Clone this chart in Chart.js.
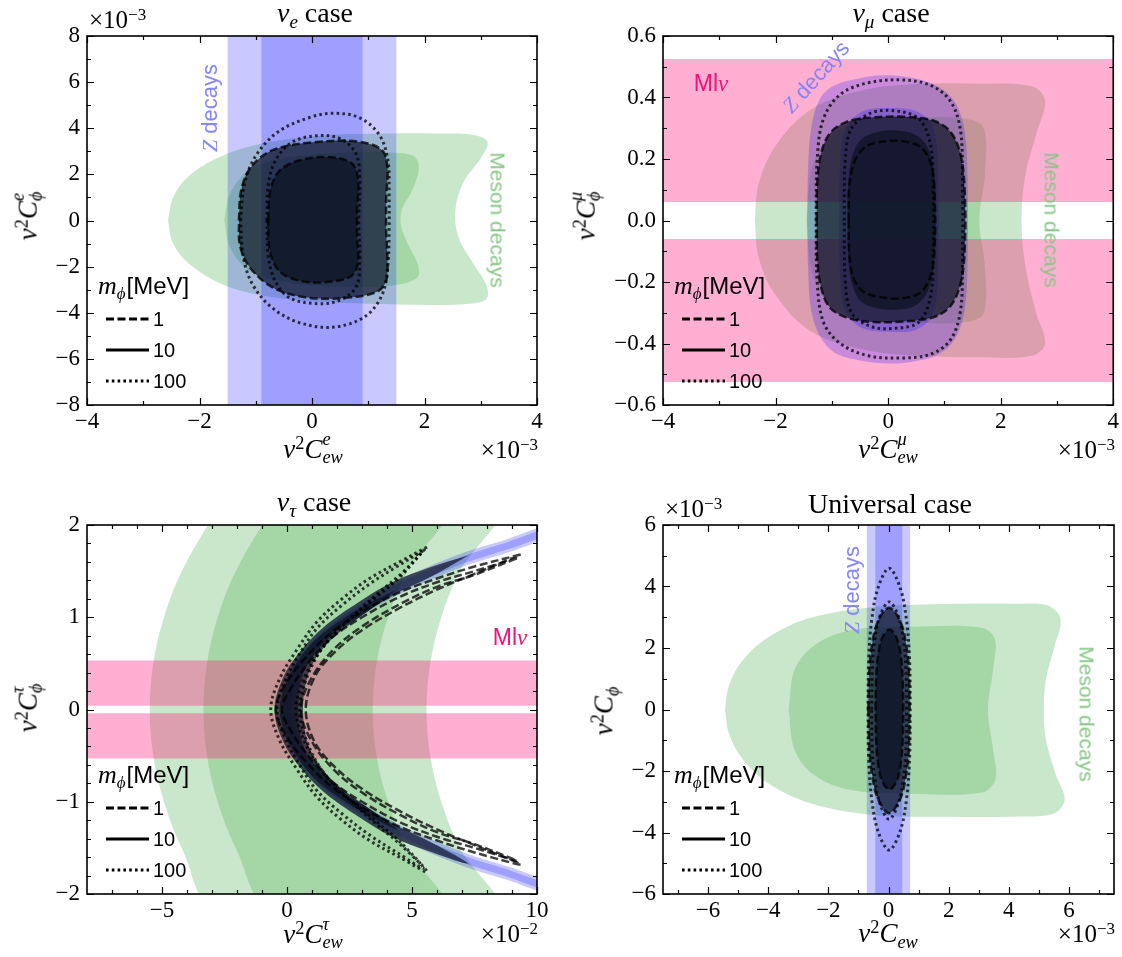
<!DOCTYPE html>
<html>
<head>
<meta charset="utf-8">
<script src="https://cdn.jsdelivr.net/npm/chart.js@4.4.0/dist/chart.umd.min.js"></script>
<style>
  body { margin: 0; background: #fff; }
  #fig { position: relative; width: 1122px; height: 957px; overflow: hidden; font-family: "Liberation Serif", serif; color: #000; }
  canvas { position: absolute; }
  .t { position: absolute; white-space: nowrap; line-height: 1; }
  .c { transform: translate(-50%, -50%); }
  .r { transform: translate(-50%, -50%) rotate(-90deg); }
  .rr { transform: translate(-50%, -50%) rotate(90deg); }
  .sans { font-family: "Liberation Sans", sans-serif; }
  sup, sub { font-size: 0.68em; vertical-align: 0; position: relative; line-height: 0; }
  sup { top: -0.5em; }
  sub { top: 0.3em; }
  .ss { display: inline-block; vertical-align: -0.3em; font-size: 0.68em; line-height: 1; font-style: italic; }
  .ss span { display: block; }
</style>
</head>
<body>
<div id="fig">
  <canvas id="c1" width="561" height="478" style="left:0;top:0"></canvas>
  <canvas id="c2" width="561" height="478" style="left:561px;top:0"></canvas>
  <canvas id="c3" width="561" height="479" style="left:0;top:478px"></canvas>
  <canvas id="c4" width="561" height="479" style="left:561px;top:478px"></canvas>

  <!-- titles -->
  <div class="t c" style="left:315px;top:13px;font-size:28px"><i>ν</i><sub><i>e</i></sub> case</div>
  <div class="t c" style="left:891px;top:13px;font-size:28px"><i>ν</i><sub><i>μ</i></sub> case</div>
  <div class="t c" style="left:314px;top:502px;font-size:28px"><i>ν</i><sub><i>τ</i></sub> case</div>
  <div class="t c" style="left:890px;top:504px;font-size:28px">Universal case</div>

  <!-- offset labels -->
  <div class="t" style="left:89px;top:7px;font-size:25px">×10<sup>−3</sup></div>
  <div class="t" style="right:584px;top:437px;font-size:25px">×10<sup>−3</sup></div>
  <div class="t" style="right:7px;top:437px;font-size:25px">×10<sup>−3</sup></div>
  <div class="t" style="right:584px;top:921px;font-size:25px">×10<sup>−2</sup></div>
  <div class="t" style="left:665px;top:496px;font-size:25px">×10<sup>−3</sup></div>
  <div class="t" style="right:7px;top:921px;font-size:25px">×10<sup>−3</sup></div>

  <!-- axis titles -->
  <div class="t c" style="left:313px;top:448px;font-size:27px"><i>v</i><sup>2</sup><i>C</i><span class="ss"><span>e</span><span>ew</span></span></div>
  <div class="t c" style="left:888px;top:448px;font-size:27px"><i>v</i><sup>2</sup><i>C</i><span class="ss"><span>μ</span><span>ew</span></span></div>
  <div class="t c" style="left:313px;top:933px;font-size:27px"><i>v</i><sup>2</sup><i>C</i><span class="ss"><span>τ</span><span>ew</span></span></div>
  <div class="t c" style="left:888px;top:933px;font-size:27px"><i>v</i><sup>2</sup><i>C</i><sub><i>ew</i></sub></div>
  <div class="t r" style="left:27px;top:216px;font-size:27px"><i>v</i><sup>2</sup><i>C</i><span class="ss"><span>e</span><span>ϕ</span></span></div>
  <div class="t r" style="left:585px;top:216px;font-size:27px"><i>v</i><sup>2</sup><i>C</i><span class="ss"><span>μ</span><span>ϕ</span></span></div>
  <div class="t r" style="left:27px;top:708px;font-size:27px"><i>v</i><sup>2</sup><i>C</i><span class="ss"><span>τ</span><span>ϕ</span></span></div>
  <div class="t r" style="left:604px;top:711px;font-size:27px"><i>v</i><sup>2</sup><i>C</i><sub><i>ϕ</i></sub></div>

  <!-- annotations -->
  <div class="t r sans" style="left:210px;top:108px;font-size:22px;color:#8585f5"><i style="font-family:'Liberation Serif'">Z</i> decays</div>
  <div class="t rr sans" style="left:498px;top:220px;font-size:21px;color:#86c586">Meson decays</div>
  <div class="t c sans" style="left:711px;top:83px;font-size:23px;color:#f0127a">Ml<i style="font-family:'Liberation Serif'">ν</i></div>
  <div class="t c sans" style="left:816px;top:77px;font-size:22px;color:#8585f5;transform:translate(-50%,-50%) rotate(-48deg)"><i style="font-family:'Liberation Serif'">Z</i> decays</div>
  <div class="t rr sans" style="left:1052px;top:220px;font-size:21px;color:#86c586">Meson decays</div>
  <div class="t c sans" style="left:510px;top:637px;font-size:23px;color:#f0127a">Ml<i style="font-family:'Liberation Serif'">ν</i></div>
  <div class="t r sans" style="left:852px;top:590px;font-size:22px;color:#8585f5"><i style="font-family:'Liberation Serif'">Z</i> decays</div>
  <div class="t rr sans" style="left:1087px;top:714px;font-size:21px;color:#86c586">Meson decays</div>
</div>

<script>
// ---------- nu_e panel (both axes in units of 1e-3) ----------
const E_X_TICKS = [-4, -2, 0, 2, 4]
const E_X_MINOR = [-3, -1, 1, 3]
const E_Y_TICKS = [-8, -6, -4, -2, 0, 2, 4, 6, 8]
const E_Y_MINOR = [-7, -5, -3, -1, 1, 3, 5, 7]
const E_Z_OUTER = [-1.5, 1.5]
const E_Z_INNER = [-0.9, 0.9]
const E_MESON_95 = [[-2.56, 0], [-2.47, 1.0], [-2.18, 1.95], [-1.6, 2.8], [-0.8, 3.38], [0.2, 3.68], [1.3, 3.77], [2.3, 3.77], [2.9, 3.7], [3.12, 3.4], [3.0, 2.7], [2.7, 1.7], [2.55, 0.5], [2.6, -0.7], [2.85, -1.8], [3.1, -2.8], [3.1, -3.4], [2.75, -3.62], [1.8, -3.65], [0.7, -3.58], [-0.47, -3.4], [-1.48, -2.88], [-2.15, -1.95], [-2.47, -1.0], [-2.56, 0]]
const E_MESON_68 = [[-1.56, 0], [-1.45, 1.2], [-1.1, 2.2], [-0.47, 2.72], [0.4, 2.92], [1.3, 2.95], [1.8, 2.8], [1.9, 2.3], [1.78, 1.3], [1.6, 0.5], [1.58, -0.2], [1.7, -1.0], [1.88, -1.9], [1.88, -2.45], [1.5, -2.8], [0.6, -2.88], [-0.4, -2.7], [-1.1, -2.2], [-1.45, -1.2], [-1.56, 0]]
const E_FIT_95 = [[-1.3, 0], [-1.26, 1.3], [-1.09, 2.3], [-0.7, 3.05], [0.06, 3.4], [0.82, 3.42], [1.24, 3.06], [1.34, 2.3], [1.32, 1.0], [1.32, -0.5], [1.34, -1.6], [1.32, -2.6], [1.15, -3.1], [0.5, -3.37], [-0.15, -3.32], [-0.7, -2.9], [-1.1, -2.05], [-1.28, -1.1], [-1.3, 0]]
const E_FIT_68 = [[-0.78, 0], [-0.74, 1.3], [-0.58, 2.15], [-0.2, 2.62], [0.35, 2.74], [0.72, 2.45], [0.82, 1.7], [0.8, 0.5], [0.8, -0.8], [0.82, -1.8], [0.7, -2.4], [0.3, -2.66], [-0.2, -2.62], [-0.58, -2.2], [-0.75, -1.3], [-0.78, 0]]
const E_DOT_95 = [[-1.27, 0], [-1.2, 1.6], [-1.0, 2.8], [-0.6, 3.85], [0.0, 4.5], [0.4, 4.65], [0.85, 4.45], [1.2, 3.7], [1.35, 2.6], [1.37, 1.2], [1.37, -0.5], [1.35, -1.9], [1.25, -3.2], [0.95, -4.15], [0.4, -4.62], [-0.2, -4.45], [-0.7, -3.8], [-1.05, -2.8], [-1.22, -1.6], [-1.27, 0]]
const E_DOT_68 = [[-0.8, 0], [-0.78, 1.5], [-0.65, 2.6], [-0.35, 3.4], [0.1, 3.68], [0.5, 3.55], [0.78, 2.9], [0.85, 1.8], [0.83, 0], [0.85, -1.8], [0.78, -2.9], [0.45, -3.5], [0.05, -3.6], [-0.4, -3.35], [-0.66, -2.6], [-0.78, -1.5], [-0.8, 0]]

// ---------- nu_mu panel (x in 1e-3) ----------
const M_X_TICKS = [-4, -2, 0, 2, 4]
const M_X_MINOR = [-3, -1, 1, 3]
const M_Y_TICKS = [-0.6, -0.4, -0.2, 0, 0.2, 0.4, 0.6]
const M_Y_MINOR = [-0.5, -0.3, -0.1, 0.1, 0.3, 0.5]
const M_PINK_UP = [0.06, 0.525]
const M_PINK_DN = [-0.525, -0.06]
const M_MESON_95 = [[-2.37, 0], [-2.3, 0.12], [-2.01, 0.24], [-1.38, 0.36], [-0.42, 0.425], [0.53, 0.444], [1.6, 0.445], [2.56, 0.436], [2.79, 0.39], [2.63, 0.28], [2.44, 0.15], [2.37, 0], [2.44, -0.15], [2.63, -0.3], [2.79, -0.4], [2.56, -0.44], [1.6, -0.445], [0.53, -0.44], [-0.42, -0.42], [-1.38, -0.36], [-2.01, -0.24], [-2.3, -0.12], [-2.37, 0]]
const M_MESON_68 = [[-1.45, 0], [-1.35, 0.17], [-1.0, 0.28], [-0.3, 0.33], [0.6, 0.335], [1.4, 0.33], [1.7, 0.3], [1.72, 0.15], [1.62, 0], [1.72, -0.15], [1.7, -0.3], [1.4, -0.33], [0.6, -0.333], [-0.3, -0.328], [-1.0, -0.28], [-1.35, -0.17], [-1.45, 0]]
const M_Z_95 = [[-1.44, 0], [-1.42, 0.18], [-1.36, 0.31], [-1.2, 0.4], [-0.95, 0.44], [-0.5, 0.463], [-0.1, 0.472], [0.4, 0.465], [0.84, 0.44], [1.17, 0.39], [1.35, 0.3], [1.41, 0.15], [1.41, -0.15], [1.35, -0.3], [1.17, -0.39], [0.84, -0.44], [0.4, -0.46], [0.02, -0.465], [-0.5, -0.455], [-0.95, -0.43], [-1.2, -0.38], [-1.36, -0.3], [-1.42, -0.17], [-1.44, 0]]
const M_Z_68 = [[-0.87, 0], [-0.85, 0.2], [-0.75, 0.3], [-0.45, 0.355], [0.05, 0.366], [0.5, 0.355], [0.78, 0.31], [0.88, 0.2], [0.88, -0.2], [0.78, -0.31], [0.5, -0.355], [0.05, -0.362], [-0.45, -0.35], [-0.75, -0.3], [-0.85, -0.2], [-0.87, 0]]
const M_FIT_95 = [[-1.27, 0], [-1.26, 0.12], [-1.2, 0.21], [-1.05, 0.28], [-0.75, 0.32], [-0.3, 0.335], [0.3, 0.337], [0.8, 0.325], [1.1, 0.29], [1.28, 0.22], [1.36, 0.1], [1.36, -0.1], [1.28, -0.21], [1.1, -0.28], [0.8, -0.315], [0.3, -0.328], [-0.3, -0.33], [-0.75, -0.315], [-1.05, -0.28], [-1.2, -0.21], [-1.26, -0.12], [-1.27, 0]]
const M_FIT_68 = [[-0.72, 0], [-0.71, 0.12], [-0.65, 0.2], [-0.5, 0.26], [-0.2, 0.288], [0.2, 0.292], [0.52, 0.275], [0.72, 0.23], [0.82, 0.15], [0.84, 0.05], [0.84, -0.06], [0.8, -0.16], [0.68, -0.24], [0.45, -0.28], [0.15, -0.29], [-0.2, -0.285], [-0.5, -0.26], [-0.65, -0.2], [-0.71, -0.12], [-0.72, 0]]
const M_DASH_68 = [[-0.7, 0], [-0.69, 0.11], [-0.6, 0.19], [-0.4, 0.24], [-0.05, 0.258], [0.35, 0.255], [0.62, 0.232], [0.78, 0.17], [0.83, 0.06], [0.83, -0.07], [0.77, -0.17], [0.6, -0.23], [0.3, -0.252], [-0.1, -0.25], [-0.45, -0.23], [-0.63, -0.18], [-0.69, -0.1], [-0.7, 0]]
const M_DOT_95 = [[-1.28, 0], [-1.26, 0.2], [-1.15, 0.33], [-0.85, 0.41], [-0.35, 0.448], [0.25, 0.457], [0.75, 0.44], [1.1, 0.39], [1.28, 0.3], [1.32, 0.15], [1.32, -0.15], [1.28, -0.3], [1.1, -0.39], [0.75, -0.435], [0.25, -0.447], [-0.35, -0.44], [-0.85, -0.4], [-1.15, -0.33], [-1.26, -0.2], [-1.28, 0]]
const M_DOT_68 = [[-0.78, 0], [-0.76, 0.2], [-0.65, 0.3], [-0.3, 0.35], [0.15, 0.356], [0.55, 0.33], [0.75, 0.25], [0.8, 0.12], [0.8, -0.12], [0.75, -0.25], [0.55, -0.33], [0.15, -0.35], [-0.3, -0.345], [-0.65, -0.3], [-0.76, -0.2], [-0.78, 0]]

// ---------- nu_tau panel (x in 1e-2) ----------
const T_X_TICKS = [-5, 0, 5, 10]
const T_X_MINOR = [-7, -6, -4, -3, -2, -1, 1, 2, 3, 4, 6, 7, 8, 9]
const T_Y_TICKS = [-2, -1, 0, 1, 2]
const T_Y_MINOR = [-1.8, -1.6, -1.4, -1.2, -0.8, -0.6, -0.4, -0.2, 0.2, 0.4, 0.6, 0.8, 1.2, 1.4, 1.6, 1.8]
const T_PINK_UP = [0.04, 0.53]
const T_PINK_DN = [-0.53, -0.04]
const T_MESON_95 = [[-2.73, 2.2], [-4.21, 1.5], [-4.92, 1], [-5.35, 0.5], [-5.49, 0], [-5.35, -0.5], [-4.92, -1], [-4.21, -1.5], [-2.73, -2.2], [8.44, -2.2], [6.91, -1.5], [6.17, -1], [5.73, -0.5], [5.58, 0], [5.73, 0.5], [6.17, 1], [6.91, 1.5], [8.44, 2.2], [-2.73, 2.2]]
const T_MESON_68 = [[-0.56, 2.2], [-2.05, 1.5], [-2.77, 1], [-3.2, 0.5], [-3.34, 0], [-3.2, -0.5], [-2.77, -1], [-2.05, -1.5], [-0.56, -2.2], [6.38, -2.2], [4.8, -1.5], [4.04, -1], [3.58, -0.5], [3.43, 0], [3.58, 0.5], [4.04, 1], [4.8, 1.5], [6.38, 2.2], [-0.56, 2.2]]
const T_Z_CURVE = [[10.8, -1.97], [10, -1.89], [8.88, -1.78], [7.23, -1.64], [5.73, -1.48], [4.28, -1.3], [2.86, -1.08], [1.42, -0.79], [0.42, -0.44], [0.02, 0], [0.42, 0.44], [1.42, 0.79], [2.86, 1.08], [4.28, 1.3], [5.73, 1.48], [7.23, 1.64], [8.88, 1.78], [10, 1.89], [10.8, 1.97]]
const T_FIT_95 = [[7.25, 1.67], [5.7, 1.54], [4.2, 1.38], [2.85, 1.16], [1.5, 0.9], [0.5, 0.62], [-0.15, 0.35], [-0.5, 0], [-0.15, -0.35], [0.5, -0.62], [1.5, -0.9], [2.85, -1.16], [4.2, -1.38], [5.7, -1.54], [7.25, -1.67], [5.7, -1.43], [4.2, -1.23], [2.85, -0.99], [1.6, -0.71], [0.9, -0.42], [0.64, 0], [0.9, 0.42], [1.6, 0.71], [2.85, 0.99], [4.2, 1.23], [5.7, 1.43], [7.25, 1.67]]
const T_FIT_68 = [[4.4, 1.3], [3.2, 1.14], [2.0, 0.94], [1.0, 0.72], [0.3, 0.47], [-0.1, 0.25], [-0.3, 0], [-0.1, -0.25], [0.3, -0.47], [1.0, -0.72], [2.0, -0.94], [3.2, -1.14], [4.4, -1.3], [3.2, -1.06], [2.0, -0.85], [1.1, -0.6], [0.6, -0.35], [0.45, 0], [0.6, 0.35], [1.1, 0.6], [2.0, 0.85], [3.2, 1.06], [4.4, 1.3]]
const T_DASH_95 = [[9.35, 1.68], [7.5, 1.55], [6, 1.42], [4.5, 1.27], [3, 1.06], [1.8, 0.84], [0.8, 0.58], [0.0, 0.3], [-0.45, 0], [0.0, -0.3], [0.8, -0.58], [1.8, -0.84], [3, -1.06], [4.5, -1.27], [6, -1.42], [7.5, -1.55], [9.35, -1.68], [7.5, -1.47], [6, -1.3], [4.5, -1.1], [3, -0.86], [1.9, -0.62], [1.1, -0.35], [0.75, 0], [1.1, 0.35], [1.9, 0.62], [3, 0.86], [4.5, 1.1], [6, 1.3], [7.5, 1.47], [9.35, 1.68]]
const T_DASH_68 = [[9.2, 1.64], [7.5, 1.5], [6, 1.38], [4.5, 1.22], [3, 1.0], [1.8, 0.78], [0.9, 0.52], [0.2, 0.25], [-0.2, 0], [0.2, -0.25], [0.9, -0.52], [1.8, -0.78], [3, -1.0], [4.5, -1.22], [6, -1.38], [7.5, -1.5], [9.2, -1.64], [7.5, -1.46], [6, -1.33], [4.5, -1.14], [3, -0.9], [1.9, -0.66], [1.0, -0.35], [0.55, 0], [1.0, 0.35], [1.9, 0.66], [3, 0.9], [4.5, 1.14], [6, 1.33], [7.5, 1.46], [9.2, 1.64]]
const T_DOT_95 = [[5.6, 1.76], [4.5, 1.6], [3.3, 1.42], [2.2, 1.2], [1.2, 0.95], [0.4, 0.65], [-0.3, 0.33], [-0.65, 0], [-0.3, -0.33], [0.4, -0.65], [1.2, -0.95], [2.2, -1.2], [3.3, -1.42], [4.5, -1.6], [5.6, -1.76], [4.6, -1.48], [3.6, -1.25], [2.5, -0.98], [1.5, -0.7], [0.8, -0.35], [0.5, 0], [0.8, 0.35], [1.5, 0.7], [2.5, 0.98], [3.6, 1.25], [4.6, 1.48], [5.6, 1.76]]
const T_DOT_68 = [[5.45, 1.72], [4.4, 1.55], [3.3, 1.36], [2.2, 1.13], [1.2, 0.88], [0.5, 0.6], [-0.1, 0.3], [-0.4, 0], [-0.1, -0.3], [0.5, -0.6], [1.2, -0.88], [2.2, -1.13], [3.3, -1.36], [4.4, -1.55], [5.45, -1.72], [4.5, -1.43], [3.5, -1.2], [2.4, -0.95], [1.4, -0.66], [0.7, -0.35], [0.35, 0], [0.7, 0.35], [1.4, 0.66], [2.4, 0.95], [3.5, 1.2], [4.5, 1.43], [5.45, 1.72]]

// ---------- universal panel (both axes in 1e-3) ----------
const U_X_TICKS = [-6, -4, -2, 0, 2, 4, 6]
const U_X_MINOR = [-7, -5, -3, -1, 1, 3, 5, 7]
const U_Y_TICKS = [-6, -4, -2, 0, 2, 4, 6]
const U_Y_MINOR = [-5, -3, -1, 1, 3, 5]
const U_Z_OUTER = [-0.72, 0.72]
const U_Z_INNER = [-0.44, 0.46]
const U_MESON_95 = [[-5.44, 0], [-5.3, 0.8], [-4.85, 1.6], [-4.0, 2.35], [-2.6, 2.98], [-0.6, 3.32], [1.8, 3.43], [4.4, 3.44], [5.3, 3.38], [5.72, 2.95], [5.52, 2.04], [5.23, 0.96], [5.17, 0], [5.23, -0.96], [5.57, -2.13], [5.86, -2.94], [5.5, -3.38], [4.4, -3.48], [1.8, -3.49], [-0.6, -3.42], [-2.6, -3.05], [-4.0, -2.4], [-4.85, -1.62], [-5.3, -0.8], [-5.44, 0]]
const U_MESON_68 = [[-3.32, 0], [-3.12, 1.3], [-2.45, 2.1], [-1.25, 2.58], [0.8, 2.69], [3.1, 2.66], [3.54, 2.28], [3.49, 1.39], [3.31, 0], [3.49, -1.39], [3.56, -2.26], [3.12, -2.7], [0.8, -2.74], [-1.25, -2.62], [-2.45, -2.15], [-3.12, -1.32], [-3.32, 0]]
const U_FIT_95 = [[-0.67, 0], [-0.64, 1.2], [-0.55, 2.1], [-0.36, 2.85], [0.02, 3.31], [0.4, 2.85], [0.59, 2.1], [0.68, 1.2], [0.7, 0], [0.68, -1.2], [0.59, -2.1], [0.4, -2.88], [0.02, -3.37], [-0.36, -2.88], [-0.55, -2.1], [-0.64, -1.2], [-0.67, 0]]
const U_FIT_68 = [[-0.43, 0], [-0.41, 1.0], [-0.34, 1.8], [-0.2, 2.35], [0.03, 2.6], [0.26, 2.35], [0.4, 1.8], [0.47, 1.0], [0.49, 0], [0.47, -1.0], [0.4, -1.8], [0.26, -2.35], [0.03, -2.6], [-0.2, -2.35], [-0.34, -1.8], [-0.41, -1.0], [-0.43, 0]]
const U_DOT_95 = [[-0.68, 0], [-0.66, 1.6], [-0.56, 2.9], [-0.35, 3.95], [0.02, 4.59], [0.39, 3.95], [0.6, 2.9], [0.7, 1.6], [0.72, 0], [0.7, -1.6], [0.6, -2.9], [0.39, -3.95], [0.02, -4.57], [-0.35, -3.95], [-0.56, -2.9], [-0.66, -1.6], [-0.68, 0]]
const U_DOT_68 = [[-0.56, 0], [-0.54, 1.3], [-0.45, 2.3], [-0.27, 3.08], [0.02, 3.5], [0.31, 3.08], [0.49, 2.3], [0.58, 1.3], [0.6, 0], [0.58, -1.3], [0.49, -2.3], [0.31, -3.1], [0.02, -3.57], [-0.27, -3.1], [-0.45, -2.3], [-0.54, -1.3], [-0.56, 0]]

// legend entries (m_phi in MeV)
const MASSES = ['1', '10', '100']

// colours
const MESON = 'rgba(76,175,80,0.3)'
const ZCOL = 'rgba(0,0,255,0.21)'
const PINK = 'rgba(255,20,120,0.34)'
const FIT = 'rgba(12,18,32,0.69)'
const LINE = 'rgba(0,0,0,0.75)'
const DASH = [8, 3.5]
const DOT = [2.6, 3.2]
const MASS_DASH = [DASH, [], DOT]

const pts = arr => arr.map(p => ({ x: p[0], y: p[1] }))

const region = (arr, color, tension = 0.35) => ({
    data: pts(arr), fill: 'shape', backgroundColor: color,
    borderColor: 'rgba(0,0,0,0)', borderWidth: 0, tension: tension
})

const vband = (lim, yr, color) => region([[lim[0], yr[0]], [lim[0], yr[1]], [lim[1], yr[1]], [lim[1], yr[0]], [lim[0], yr[0]]], color, 0)
const hband = (lim, xr, color) => region([[xr[0], lim[0]], [xr[0], lim[1]], [xr[1], lim[1]], [xr[1], lim[0]], [xr[0], lim[0]]], color, 0)

const contour = (arr, dash, width = 2.5) => ({
    data: pts(arr), fill: false, borderColor: LINE, borderWidth: width, borderDash: dash, tension: 0.35
})

const strip = (arr, width) => ({
    data: pts(arr), fill: false, borderColor: ZCOL, borderWidth: width, tension: 0.35, borderCapStyle: 'butt'
})

// inward ticks on all four sides plus the frame
const framePlugin = {
    id: 'frame',
    afterDatasetsDraw(chart, args, o) {
        const { ctx, chartArea: a, scales } = chart
        const sx = scales.x, sy = scales.y
        ctx.save()
        ctx.strokeStyle = '#000'
        ctx.lineWidth = 1.2
        ctx.setLineDash([])
        ctx.beginPath()
        const xTick = (v, len) => {
            const px = Math.round(sx.getPixelForValue(v)) + 0.5
            ctx.moveTo(px, a.bottom); ctx.lineTo(px, a.bottom - len)
            ctx.moveTo(px, a.top); ctx.lineTo(px, a.top + len)
        }
        const yTick = (v, len) => {
            const py = Math.round(sy.getPixelForValue(v)) + 0.5
            ctx.moveTo(a.left, py); ctx.lineTo(a.left + len, py)
            ctx.moveTo(a.right, py); ctx.lineTo(a.right - len, py)
        }
        o.xMajor.forEach(v => xTick(v, 7))
        o.xMinor.forEach(v => xTick(v, 4))
        o.yMajor.forEach(v => yTick(v, 7))
        o.yMinor.forEach(v => yTick(v, 4))
        ctx.stroke()
        ctx.lineWidth = 1.6
        ctx.strokeRect(a.left, a.top, a.right - a.left, a.bottom - a.top)
        ctx.restore()
    }
}

// the m_phi legend in the lower left corner
const legendPlugin = {
    id: 'mphi',
    afterDatasetsDraw(chart) {
        const { ctx, chartArea: a } = chart
        ctx.save()
        ctx.fillStyle = '#000'
        ctx.textBaseline = 'alphabetic'
        let x = a.left + 11
        const y = a.top + 258
        ctx.font = 'italic 26px "Liberation Serif"'
        ctx.fillText('m', x, y)
        x += ctx.measureText('m').width
        ctx.font = 'italic 17px "Liberation Serif"'
        ctx.fillText('ϕ', x, y + 5)
        x += ctx.measureText('ϕ').width + 1
        ctx.font = '24px "Liberation Sans"'
        ctx.fillText('[MeV]', x, y)

        ctx.strokeStyle = '#000'
        ctx.lineWidth = 3
        ctx.textBaseline = 'middle'
        ctx.font = '20px "Liberation Sans"'
        MASSES.forEach((m, i) => {
            const ly = a.top + 283 + i * 31
            ctx.setLineDash(MASS_DASH[i])
            ctx.beginPath()
            ctx.moveTo(a.left + 19, ly)
            ctx.lineTo(a.left + 62, ly)
            ctx.stroke()
            ctx.fillText(m, a.left + 66, ly + 1)
        })
        ctx.restore()
    }
}

const fmt = dec => v => (v < 0 ? '\u2212' : '') + Math.abs(v).toFixed(dec)
const TICK_FONT = { family: 'Liberation Serif', size: 23 }

const makePanel = (id, p) => new Chart(document.getElementById(id), {
    type: 'scatter',
    data: {
        datasets: p.datasets.map((d, i, all) => Object.assign({ pointRadius: 0, showLine: true, clip: 0, order: all.length - i }, d))
    },
    options: {
        responsive: false,
        animation: false,
        devicePixelRatio: 1,
        layout: { padding: { top: p.padTop, right: p.padRight, left: 0, bottom: 0 }, autoPadding: false },
        plugins: {
            legend: { display: false },
            tooltip: { enabled: false },
            frame: { xMajor: p.xTicks, xMinor: p.xMinor, yMajor: p.yTicks, yMinor: p.yMinor }
        },
        scales: {
            x: {
                type: 'linear', min: p.xr[0], max: p.xr[1],
                grid: { display: false, drawTicks: false }, border: { display: false },
                afterBuildTicks: s => { s.ticks = p.xTicks.map(v => ({ value: v })) },
                afterFit: s => { s.height = p.xHeight },
                ticks: { font: TICK_FONT, color: '#000', padding: 3, maxRotation: 0, autoSkip: false, callback: fmt(0) }
            },
            y: {
                type: 'linear', min: p.yr[0], max: p.yr[1],
                grid: { display: false, drawTicks: false }, border: { display: false },
                afterBuildTicks: s => { s.ticks = p.yTicks.map(v => ({ value: v })) },
                afterFit: s => { s.width = p.yWidth },
                ticks: { font: TICK_FONT, color: '#000', padding: 7, autoSkip: false, callback: fmt(p.yDec) }
            }
        }
    },
    plugins: [framePlugin, legendPlugin]
})

const E_XR = [-4, 4], E_YR = [-8, 8]
makePanel('c1', {
    xr: E_XR, yr: E_YR, xTicks: E_X_TICKS, xMinor: E_X_MINOR, yTicks: E_Y_TICKS, yMinor: E_Y_MINOR, yDec: 0,
    padTop: 36, padRight: 24, yWidth: 87, xHeight: 73,
    datasets: [
        region(E_MESON_95, MESON), region(E_MESON_68, MESON),
        vband(E_Z_OUTER, E_YR, ZCOL), vband(E_Z_INNER, E_YR, ZCOL),
        region(E_FIT_95, FIT), region(E_FIT_68, FIT),
        contour(E_FIT_95, DASH), contour(E_FIT_68, DASH),
        contour(E_DOT_95, DOT, 3), contour(E_DOT_68, DOT, 3)
    ]
})

const M_XR = [-4, 4], M_YR = [-0.6, 0.6]
makePanel('c2', {
    xr: M_XR, yr: M_YR, xTicks: M_X_TICKS, xMinor: M_X_MINOR, yTicks: M_Y_TICKS, yMinor: M_Y_MINOR, yDec: 1,
    padTop: 36, padRight: 8, yWidth: 102, xHeight: 73,
    datasets: [
        region(M_MESON_95, MESON), region(M_MESON_68, MESON),
        hband(M_PINK_UP, M_XR, PINK), hband(M_PINK_DN, M_XR, PINK),
        region(M_Z_95, ZCOL), region(M_Z_68, ZCOL),
        region(M_FIT_95, FIT), region(M_FIT_68, FIT),
        contour(M_FIT_95, DASH), contour(M_DASH_68, DASH),
        contour(M_DOT_95, DOT, 3), contour(M_DOT_68, DOT, 3)
    ]
})

const T_XR = [-8, 10], T_YR = [-2, 2]
makePanel('c3', {
    xr: T_XR, yr: T_YR, xTicks: T_X_TICKS, xMinor: T_X_MINOR, yTicks: T_Y_TICKS, yMinor: T_Y_MINOR, yDec: 0,
    padTop: 47, padRight: 24, yWidth: 87, xHeight: 63,
    datasets: [
        region(T_MESON_95, MESON), region(T_MESON_68, MESON),
        hband(T_PINK_UP, T_XR, PINK), hband(T_PINK_DN, T_XR, PINK),
        strip(T_Z_CURVE, 13), strip(T_Z_CURVE, 7),
        region(T_FIT_95, FIT), region(T_FIT_68, FIT),
        contour(T_DASH_95, DASH), contour(T_DASH_68, DASH),
        contour(T_DOT_95, DOT, 3), contour(T_DOT_68, DOT, 3)
    ]
})

const U_XR = [-7.5, 7.5], U_YR = [-6, 6]
makePanel('c4', {
    xr: U_XR, yr: U_YR, xTicks: U_X_TICKS, xMinor: U_X_MINOR, yTicks: U_Y_TICKS, yMinor: U_Y_MINOR, yDec: 0,
    padTop: 47, padRight: 8, yWidth: 102, xHeight: 63,
    datasets: [
        region(U_MESON_95, MESON), region(U_MESON_68, MESON),
        vband(U_Z_OUTER, U_YR, ZCOL), vband(U_Z_INNER, U_YR, ZCOL),
        region(U_FIT_95, FIT), region(U_FIT_68, FIT),
        contour(U_FIT_95, DASH), contour(U_FIT_68, DASH),
        contour(U_DOT_95, DOT, 3), contour(U_DOT_68, DOT, 3)
    ]
})
</script>
</body>
</html>
